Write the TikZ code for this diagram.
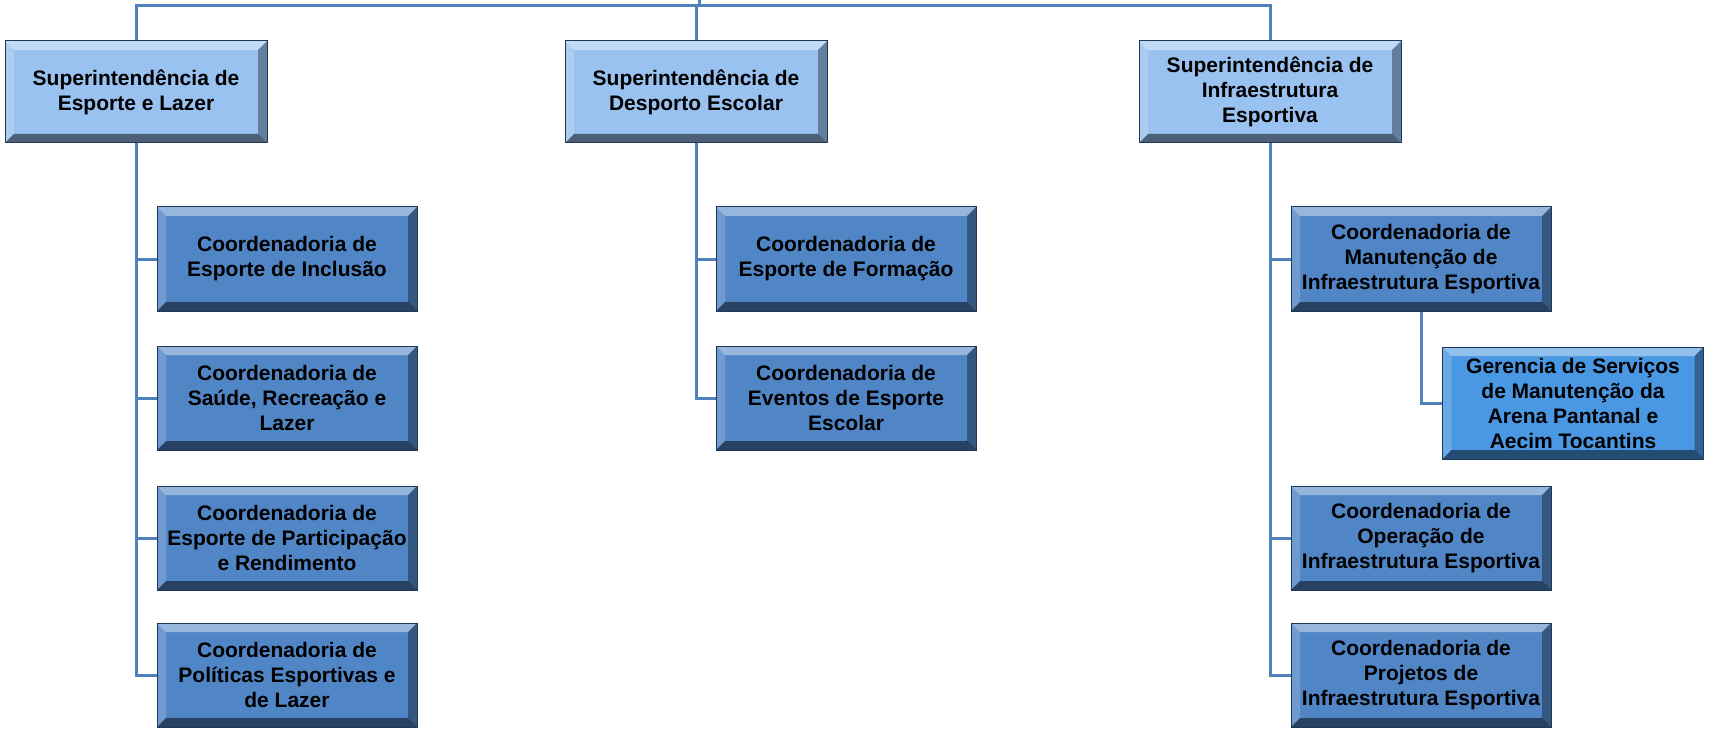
\documentclass[tikz,border=0pt]{standalone}
\usepackage{fontspec}
\setmainfont{Liberation Sans}
\begin{document}
\begin{tikzpicture}[x=1pt,y=-1pt,
  conn/.style={draw=linec,line width=3pt},
  boxbase/.style={rectangle,draw=edgec,line width=1pt,align=center,
     font=\fontsize{21}{25}\selectfont\bfseries,inner sep=0pt,text=black,
     path picture={\bevelpic}},
  supbox/.style={boxbase,fill=supc,minimum width=262pt,minimum height=102pt},
  coordbox/.style={boxbase,fill=coordc,minimum width=260pt,minimum height=104pt},
  gerbox/.style={boxbase,fill=gerc,minimum width=261pt,minimum height=112pt}]
\definecolor{linec}{RGB}{79,129,189}
\definecolor{edgec}{RGB}{31,56,90}
\definecolor{supc}{RGB}{153,194,240}
\definecolor{coordc}{RGB}{80,134,198}
\definecolor{gerc}{RGB}{74,152,228}
\newcommand\bevelpic{%
  \path (path picture bounding box.north west) coordinate (pnw)
        (path picture bounding box.north east) coordinate (pne)
        (path picture bounding box.south west) coordinate (psw)
        (path picture bounding box.south east) coordinate (pse);
  \fill[white,opacity=0.40] (pnw) -- (pne) -- ([xshift=-9pt,yshift=-9pt]pne) -- ([xshift=9pt,yshift=-9pt]pnw) -- cycle;
  \fill[white,opacity=0.18] (pnw) -- ([xshift=9pt,yshift=-9pt]pnw) -- ([xshift=9pt,yshift=9pt]psw) -- (psw) -- cycle;
  \fill[black,opacity=0.35] (pne) -- ([xshift=-9pt,yshift=-9pt]pne) -- ([xshift=-9pt,yshift=9pt]pse) -- (pse) -- cycle;
  \fill[black,opacity=0.50] (psw) -- ([xshift=9pt,yshift=9pt]psw) -- ([xshift=-9pt,yshift=9pt]pse) -- (pse) -- cycle;
}
\useasboundingbox[fill=white] (0,0) rectangle (1710,730);

\node[supbox] (s1) at (136,92) {Superintendência de\\Esporte e Lazer};
\node[supbox] (s2) at (696,92) {Superintendência de\\Desporto Escolar};
\node[supbox] (s3) at (1270,92) {Superintendência de\\Infraestrutura\\Esportiva};

\node[coordbox] (c11) at (287,259) {Coordenadoria de\\Esporte de Inclusão};
\node[coordbox] (c12) at (287,398) {Coordenadoria de\\Saúde, Recreação e\\Lazer};
\node[coordbox] (c13) at (287,538) {Coordenadoria de\\Esporte de Participação\\e Rendimento};
\node[coordbox] (c14) at (287,675) {Coordenadoria de\\Políticas Esportivas e\\de Lazer};

\node[coordbox] (c21) at (846,259) {Coordenadoria de\\Esporte de Formação};
\node[coordbox] (c22) at (846,398) {Coordenadoria de\\Eventos de Esporte\\Escolar};

\node[coordbox] (c31) at (1421,259) {Coordenadoria de\\Manutenção de\\Infraestrutura Esportiva};
\node[gerbox] (g1) at (1573,403) {Gerencia de Serviços\\de Manutenção da\\Arena Pantanal e\\Aecim Tocantins};
\node[coordbox] (c33) at (1421,538) {Coordenadoria de\\Operação de\\Infraestrutura Esportiva};
\node[coordbox] (c34) at (1421,675) {Coordenadoria de\\Projetos de\\Infraestrutura Esportiva};

\coordinate (top) at (699,0);
\coordinate (bar) at (699,6);
\draw[conn] (top) -- (bar);
\draw[conn] (s1.north) -- (s1.north |- bar) -- (s3.north |- bar) -- (s3.north);
\draw[conn] (s2.north) -- (s2.north |- bar);

\draw[conn] (s1.south) |- (c14.west);
\draw[conn] (s1.south |- c11.west) -- (c11.west);
\draw[conn] (s1.south |- c12.west) -- (c12.west);
\draw[conn] (s1.south |- c13.west) -- (c13.west);

\draw[conn] (s2.south) |- (c22.west);
\draw[conn] (s2.south |- c21.west) -- (c21.west);

\draw[conn] (s3.south) |- (c34.west);
\draw[conn] (s3.south |- c31.west) -- (c31.west);
\draw[conn] (s3.south |- c33.west) -- (c33.west);

\draw[conn] (c31.south) |- (g1.west);
\end{tikzpicture}
\end{document}
